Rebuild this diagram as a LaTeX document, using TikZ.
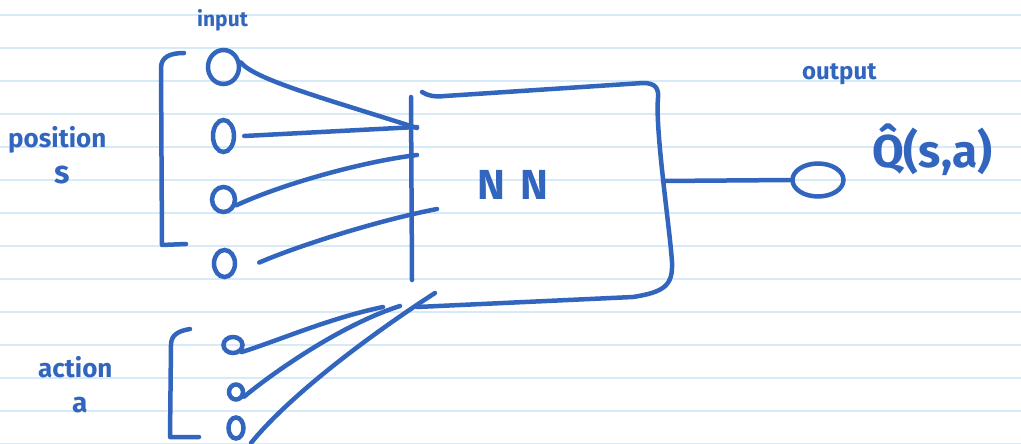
\documentclass[tikz,border=0pt]{standalone}
\usepackage{fontspec}
\setmainfont{Fira Sans}
\usetikzlibrary{shapes.geometric}
\definecolor{ink}{RGB}{50,102,190}
\definecolor{paperrule}{RGB}{214,234,248}
\begin{document}
\begin{tikzpicture}[x=1pt,y=-1pt,
  pen/.style={draw=ink,line width=4.5pt,line cap=round,line join=round},
  unit/.style={ellipse,draw=ink,line width=4.5pt,inner sep=0pt},
  lbl/.style={text=ink,inner sep=0pt,anchor=base west},
]
\useasboundingbox (0,0) rectangle (1021,444);
\fill[white] (0,0) rectangle (1021,444);
\foreach \y in {15,48,...,444} \draw[paperrule,line width=1.5pt] (0,\y) -- (1021,\y);

% labels
\node[lbl,font=\fontsize{21}{24}\selectfont\bfseries] (tin) at (197,27) {input};
\node[lbl,font=\fontsize{26}{30}\selectfont\bfseries] (tpos) at (8,147) {position};
\node[lbl,font=\fontsize{32}{32}\selectfont\bfseries] (ts) at (54,183) {s};
\node[lbl,font=\fontsize{26}{30}\selectfont\bfseries] (tact) at (38,377) {action};
\node[lbl,font=\fontsize{28}{30}\selectfont\bfseries] (ta) at (72,412) {a};
\node[lbl,font=\fontsize{24}{27}\selectfont\bfseries] (tout) at (802,80) {output};
\node[lbl,font=\fontsize{46}{48}\selectfont\bfseries] (tq) at (872,167) {\^{Q}(s,a)};
\node[text=ink,inner sep=0pt,anchor=base,font=\fontsize{42}{44}\selectfont\bfseries] (nn) at (513,199) {N\hspace{16pt}N};

% input units
\node[unit,minimum width=31,minimum height=34] (s1) at (223.5,67) {};
\node[unit,minimum width=21,minimum height=32] (s2) at (223.5,136) {};
\node[unit,minimum width=23,minimum height=25] (s3) at (223.5,199.5) {};
\node[unit,minimum width=21,minimum height=27] (s4) at (224.5,263.5) {};
\node[unit,minimum width=19,minimum height=16] (a1) at (233,345) {};
\node[unit,minimum width=14,minimum height=15] (a2) at (236,392) {};
\node[unit,minimum width=15,minimum height=21] (a3) at (236,428) {};
\node[unit,minimum width=51,minimum height=33] (out) at (818,180) {};

% brackets
\draw[pen] (184,53) .. controls (170,53) and (161,57) .. (161,68) -- (162,245) -- (186,244);
\draw[pen] (190,329) .. controls (178,331) and (171,335) .. (171,345) -- (170,437) -- (199,437);

% input bar
\coordinate (bt) at (411,97);
\coordinate (bb) at (412,280);
\draw[pen] (bt) -- (bb);

% NN box
\draw[pen] (422,92) .. controls (428,96) and (435,97) .. (445,96) -- (643,83)
  .. controls (655,83) and (659,88) .. (658,98)
  .. controls (655,130) and (670,230) .. (672,262)
  .. controls (673,285) and (665,292) .. (633,297) -- (417,307);
\coordinate (boxr) at (663,181);

% connector ends
\coordinate (e1) at (417,128);
\coordinate (e2) at (417,127);
\coordinate (e3) at (417,155);
\coordinate (e4) at (437,209);
\coordinate (f1) at (383,307);
\coordinate (f2) at (400,306);
\coordinate (f3) at (435,293);
\coordinate (g3) at (251,443);

\draw[pen] (s1.15) .. controls (255,80) and (330,100) .. (e1);
\draw[pen] ([xshift=8pt]s2.east) -- (e2);
\draw[pen] (s3.-25) .. controls (280,185) and (360,162) .. (e3);
\draw[pen] ([xshift=22pt,yshift=1pt]s4.east) .. controls (300,245) and (380,220) .. (e4);

\draw[pen] (a1.-40) .. controls (280,340) and (330,318) .. (f1);
\draw[pen] (a2.-30) .. controls (270,375) and (340,325) .. (f2);
\draw[pen] (g3) .. controls (290,395) and (370,335) .. (f3);

\draw[pen] (boxr) -- (out.west);
\end{tikzpicture}
\end{document}
